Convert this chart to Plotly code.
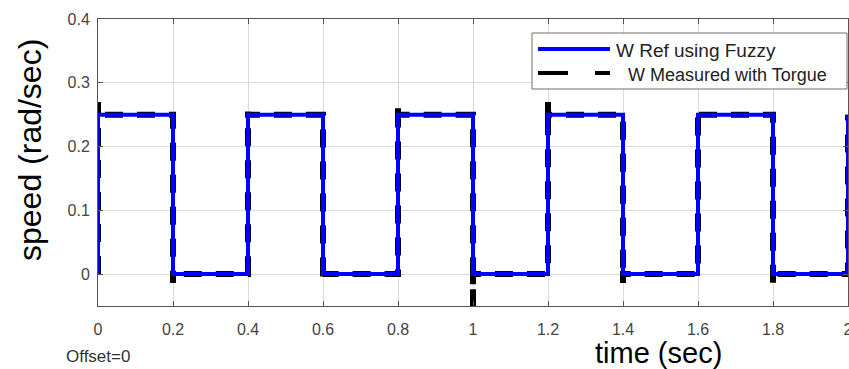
import plotly.graph_objects as go

# ---- data ----
edges = [0.0, 0.2, 0.4, 0.6, 0.8, 1.0, 1.2, 1.4, 1.6, 1.8, 2.0]
ref_levels = [0.25, 0.0, 0.25, 0.0, 0.25, 0.0, 0.25, 0.0, 0.25, 0.0, 0.25]
# measured signal: extreme value reached at each switching instant
meas_peaks = [0.27, -0.014, 0.255, -0.014, 0.27, -0.07, 0.27, -0.014, 0.258, -0.014, 0.25]
x_ticks = [0, 0.2, 0.4, 0.6, 0.8, 1.0, 1.2, 1.4, 1.6, 1.8, 2.0]
x_tick_text = ["0", "0.2", "0.4", "0.6", "0.8", "1", "1.2", "1.4", "1.6", "1.8", "2"]
y_ticks = [0, 0.1, 0.2, 0.3, 0.4]
y_tick_text = ["0", "0.1", "0.2", "0.3", "0.4"]

# reference (blue) step signal
ref_x, ref_y = [], []
prev = 0.0
for t, lv in zip(edges, ref_levels):
    ref_x += [t, t]
    ref_y += [prev, lv]
    prev = lv

# measured (black dashed) signal with overshoot at each step
meas_x, meas_y = [], []
prev = 0.0
for t, lv, pk in zip(edges, ref_levels, meas_peaks):
    meas_x += [t, t, t]
    meas_y += [prev, pk, lv]
    prev = lv

FONT = "Liberation Sans, Arial, sans-serif"

fig = go.Figure()
fig.add_trace(go.Scatter(x=meas_x, y=meas_y, mode="lines",
                         line=dict(color="black", width=6, dash="18px,14px"),
                         showlegend=False, name="W Measured with Torgue"))
fig.add_trace(go.Scatter(x=ref_x, y=ref_y, mode="lines",
                         line=dict(color="rgb(0,0,255)", width=4),
                         showlegend=False, name="W Ref using Fuzzy"))

# plot area in pixels: x 98..848, y 19..306
L, R, T, B = 98, 848, 19, 306
def px(x):
    return (x - L) / (R - L)
def py(y):
    return (B - y) / (B - T)

shapes = [
    dict(type="rect", xref="paper", yref="paper", x0=px(532), x1=px(847), y0=py(89), y1=py(33),
         line=dict(color="#6e6e6e", width=1), fillcolor="white", layer="above"),
    dict(type="line", xref="paper", yref="paper", x0=px(538), x1=px(610), y0=py(49), y1=py(49),
         line=dict(color="rgb(0,0,255)", width=4), layer="above"),
    dict(type="line", xref="paper", yref="paper", x0=px(538), x1=px(610), y0=py(73), y1=py(73),
         line=dict(color="black", width=4, dash="30px,27px"), layer="above"),
]

annotations = [
    dict(text="W Ref using Fuzzy", xref="paper", yref="paper", x=px(614), y=py(50),
         xanchor="left", yanchor="middle", showarrow=False,
         font=dict(family=FONT, size=19, color="#222")),
    dict(text="W Measured with Torgue", xref="paper", yref="paper", x=px(626), y=py(75),
         xanchor="left", yanchor="middle", showarrow=False,
         font=dict(family=FONT, size=18, color="#222")),
    dict(text="speed (rad/sec)", xref="paper", yref="paper", x=px(30), y=py(150),
         xanchor="center", yanchor="middle", textangle=-90, showarrow=False,
         font=dict(family=FONT, size=32, color="black")),
    dict(text="time (sec)", xref="paper", yref="paper", x=px(658), y=py(353),
         xanchor="center", yanchor="middle", showarrow=False, borderpad=0,
         font=dict(family=FONT, size=29, color="black")),
    dict(text="Offset=0", xref="paper", yref="paper", x=px(64), y=py(356),
         xanchor="left", yanchor="middle", showarrow=False,
         font=dict(family=FONT, size=17, color="#333")),
]

axis_common = dict(showgrid=True, gridcolor="#d9d9d9", gridwidth=1,
                   showline=True, linecolor="#555", linewidth=1, mirror="ticks",
                   ticks="inside", ticklen=5, tickcolor="#555",
                   tickfont=dict(family=FONT, size=16, color="#444"),
                   zeroline=False, automargin=False, ticklabeloverflow="allow")

fig.update_layout(
    width=849, height=369,
    margin=dict(l=L, r=849 - R, t=T, b=369 - B, autoexpand=False),
    paper_bgcolor="white", plot_bgcolor="white",
    xaxis=dict(range=[0, 2], tickvals=x_ticks, ticktext=x_tick_text,
               ticklabelstandoff=9, **axis_common),
    yaxis=dict(range=[-0.05, 0.4], tickvals=y_ticks, ticktext=y_tick_text,
               ticklabelstandoff=4, **axis_common),
    shapes=shapes, annotations=annotations, showlegend=False,
)

fig.write_html(
    "out.html",
    config={"displayModeBar": False},
    post_script="document.body.style.margin='0';document.body.style.padding='0';"
                "document.body.style.overflow='hidden';"
                "document.documentElement.style.overflow='hidden';",
)
